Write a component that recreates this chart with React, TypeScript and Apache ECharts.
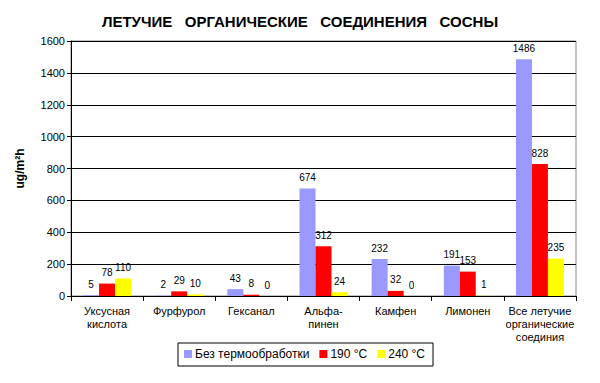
import React, { useEffect, useRef } from "react";
import * as echarts from "echarts";

const categories = [
  "Уксусная\nкислота",
  "Фурфурол",
  "Гексанал",
  "Альфа-\nпинен",
  "Камфен",
  "Лимонен",
  "Все летучие\nорганические\nсоединия",
];
const seriesNames = ["Без термообработки", "190 °C", "240 °C"];
const noTreatment = [5, 2, 43, 674, 232, 191, 1486];
const t190 = [78, 29, 8, 312, 32, 153, 828];
const t240 = [110, 10, 0, 24, 0, 1, 235];
const colors = ["#9999FF", "#FF0000", "#FFFF00"];
const yTicks = { min: 0, max: 1600, interval: 200 };

export default function App() {
  const ref = useRef<HTMLDivElement>(null);
  useEffect(() => {
    const chart = echarts.init(ref.current!, undefined, { renderer: "svg" });
    const font = "Arial, 'Liberation Sans', sans-serif";
    const data = [noTreatment, t190, t240];
    chart.setOption({
      animation: false,
      title: {
        text: "ЛЕТУЧИЕ   ОРГАНИЧЕСКИЕ   СОЕДИНЕНИЯ   СОСНЫ",
        left: "center",
        top: 9,
        textStyle: { fontFamily: font, fontSize: 15, fontWeight: "bold", color: "#000" },
      },
      grid: { left: 71, right: 24, top: 41, bottom: 87, show: true, borderColor: "#888", borderWidth: 1 },
      legend: {
        data: seriesNames,
        bottom: 17,
        left: 178,
        itemWidth: 8,
        itemHeight: 8,
        itemGap: 10,
        padding: [5, 8, 6, 6],
        borderColor: "#000",
        borderWidth: 1,
        icon: "rect",
        textStyle: { fontFamily: font, fontSize: 12, color: "#000", padding: [0, 0, 0, -2] },
      },
      xAxis: {
        type: "category",
        data: categories,
        axisLine: { lineStyle: { color: "#000" } },
        axisTick: { show: true, alignWithLabel: false, length: 5, lineStyle: { color: "#000" } },
        axisLabel: { fontFamily: font, fontSize: 11, color: "#000", lineHeight: 13, margin: 8, interval: 0 },
      },
      yAxis: {
        type: "value",
        min: yTicks.min,
        max: yTicks.max,
        interval: yTicks.interval,
        name: "ug/m²h",
        nameLocation: "middle",
        nameGap: 45,
        nameTextStyle: { fontFamily: font, fontSize: 12, fontWeight: "bold", color: "#000" },
        axisLine: { show: true, lineStyle: { color: "#000" } },
        axisTick: { show: true, length: 4, lineStyle: { color: "#000" } },
        axisLabel: {
          fontFamily: font,
          fontSize: 11,
          color: "#000",
          margin: 6,
          formatter: (v: number) => String(v),
        },
        splitLine: { lineStyle: { color: "#000", width: 1 } },
      },
      series: seriesNames.map((name, i) => ({
        name,
        type: "bar",
        data: data[i],
        barWidth: 16,
        barGap: "0%",
        barCategoryGap: "33%",
        itemStyle: { color: colors[i] },
        label: {
          show: true,
          position: "top",
          distance: 6,
          fontFamily: font,
          fontSize: 10,
          color: "#000",
        },
      })),
    });
    return () => chart.dispose();
  }, []);
  return <div ref={ref} style={{ width: 600, height: 383, position: "absolute", left: 0, top: 0, background: "#fff" }} />;
}
